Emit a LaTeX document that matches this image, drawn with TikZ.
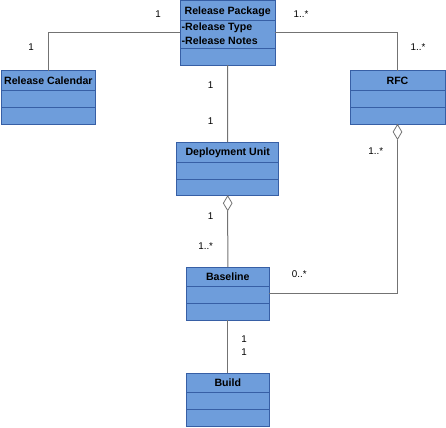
\documentclass[tikz,border=0pt]{standalone}
\usepackage{fontspec}
\setmainfont{Liberation Sans}
\usetikzlibrary{shapes.geometric}
\definecolor{boxfill}{RGB}{110,157,219}
\definecolor{boxline}{RGB}{55,95,165}
\definecolor{connline}{RGB}{115,115,115}
\tikzset{
  classbox/.style={draw=boxline, fill=boxfill, line width=1bp, inner sep=0pt, outer sep=0pt, anchor=north west},
  sepline/.style={draw=boxline, line width=1bp},
  classtitle/.style={font=\bfseries\fontsize{10.6bp}{12bp}\selectfont, inner sep=0pt, anchor=base},
  attrtext/.style={font=\bfseries\fontsize{10.6bp}{12bp}\selectfont, inner sep=0pt, anchor=base west},
  mult/.style={font=\fontsize{9.8bp}{11bp}\selectfont, inner sep=0pt},
  conn/.style={draw=connline, line width=1bp},
  aggdiamond/.style={diamond, draw=connline, fill=white, line width=0.8bp, inner sep=0pt, minimum width=9bp, minimum height=15bp, anchor=north},
}
\newcommand{\umlclassbox}[8]{%
  % #1 name, #2 x1, #3 y1, #4 x2, #5 y2, #6 sep1, #7 sep2, #8 title
  \node[classbox, minimum width=#4bp-#2bp, minimum height=#5bp-#3bp] (#1) at (#2,#3) {};
  \draw[sepline] (#2,#6) -- (#4,#6);
  \draw[sepline] (#2,#7) -- (#4,#7);
  \node[classtitle] (#1-title) at ({(#2+#4)/2},{#3+13.6}) {#8};
}
\begin{document}
\begin{tikzpicture}[x=1bp,y=-1bp]
\useasboundingbox (0,0) rectangle (446,427);

% connectors first (under boxes)
\umlclassbox{rp}{180.3}{0.5}{275}{65}{20.7}{48.7}{Release Package}
\node[attrtext] (rp-a1) at (181.5,30.5) {-Release Type};
\node[attrtext] (rp-a2) at (181.5,44) {-Release Notes};

\umlclassbox{rc}{1}{70.7}{95.7}{124}{90}{107}{Release Calendar}
\umlclassbox{rfc}{350}{70.7}{445}{124}{90}{107}{RFC}
\umlclassbox{du}{176.7}{142.3}{278.7}{195.3}{162.3}{179.3}{Deployment Unit}
\umlclassbox{bl}{186.3}{267}{269.3}{320}{286}{303.3}{Baseline}
\umlclassbox{bd}{186.3}{373.3}{269.3}{426}{392.7}{409.3}{Build}

\node[aggdiamond] (d1) at (du.south) {};
\node[aggdiamond] (d2) at (rfc.south) {};

\draw[conn] (rp.west) -| (rc.north);
\draw[conn] (rp.east) -| (rfc.north);
\draw[conn] (rp.south) -- (du.north);
\draw[conn] (d1.south) -- (bl.north);
\draw[conn] (bl.east) -| (d2.south);
\draw[conn] (bl.south) -- (bd.north);

% multiplicities
\node[mult] (m1) at (158,14) {1};
\node[mult] (m2) at (31,47) {1};
\node[mult] (m3) at (301,14) {1..*};
\node[mult] (m4) at (418,47) {1..*};
\node[mult] (m5) at (210.7,85) {1};
\node[mult] (m6) at (210.7,121) {1};
\node[mult] (m7) at (210.7,215.7) {1};
\node[mult] (m8) at (205.7,246) {1..*};
\node[mult] (m9) at (375.7,150.7) {1..*};
\node[mult] (m10) at (299.3,274.3) {0..*};
\node[mult] (m11) at (244,339.3) {1};
\node[mult] (m12) at (244,351.7) {1};
\end{tikzpicture}
\end{document}
